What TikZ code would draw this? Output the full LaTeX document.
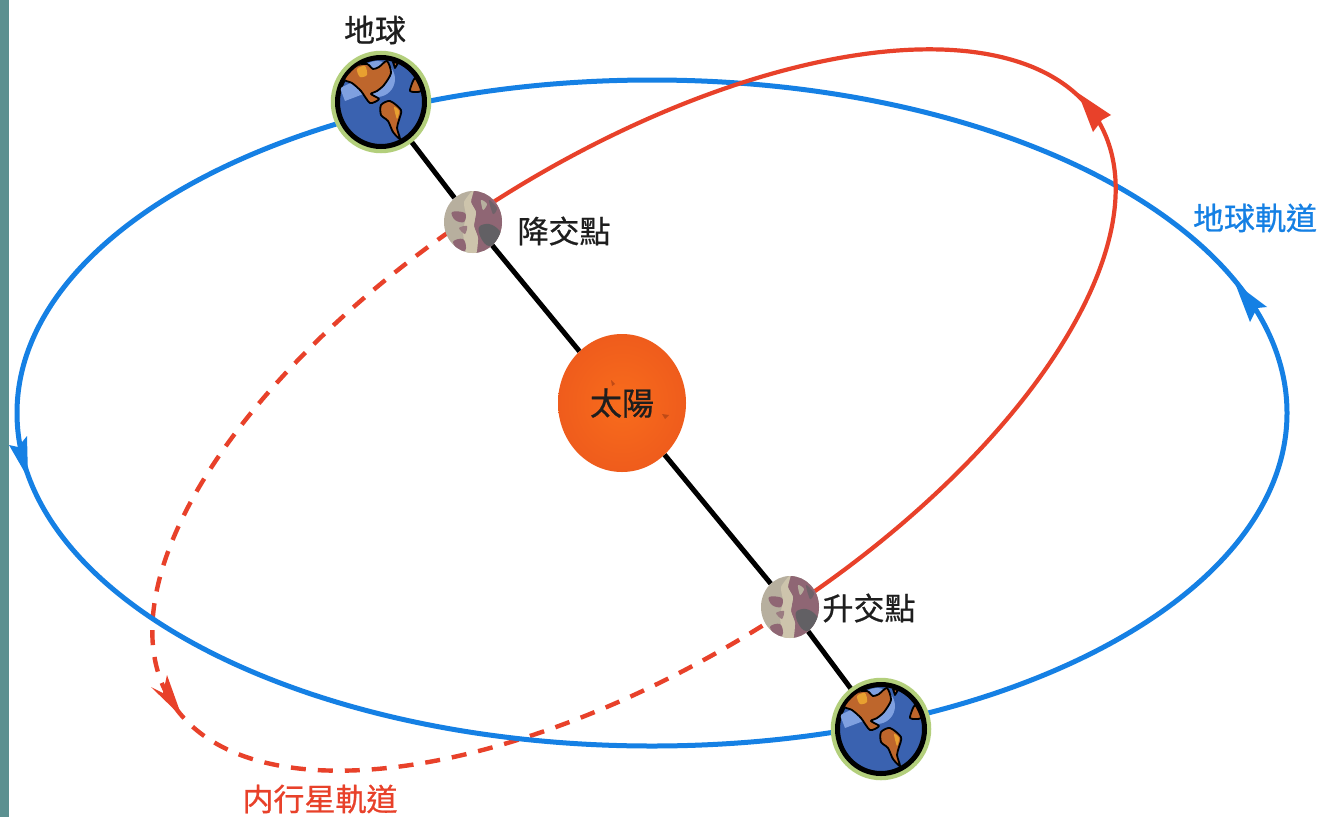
\documentclass[tikz,border=0pt]{standalone}
\usepackage{fontspec}
\usetikzlibrary{shapes.geometric}
\newfontfamily\cjk[FakeBold=0.7]{Noto Sans CJK TC}
\definecolor{orbitblue}{HTML}{1580E4}
\definecolor{orbitred}{HTML}{E8412A}
\definecolor{band}{HTML}{5B9090}
\definecolor{ringgreen}{HTML}{B3CF7C}
\definecolor{seablue}{HTML}{3A62B0}
\definecolor{paleblue}{HTML}{7FA0E0}
\definecolor{land}{HTML}{BE662C}
\definecolor{landhi}{HTML}{E8A030}
\definecolor{moonbase}{HTML}{B7AF9E}
\definecolor{moonlight}{HTML}{CDC4AC}
\definecolor{moonmauve}{HTML}{8F6674}
\definecolor{moondark}{HTML}{626064}
\definecolor{sunfill}{HTML}{F86C1C}
\definecolor{sunedge}{HTML}{EF5C1C}
\definecolor{inkdark}{HTML}{1E1E1E}
\tikzset{
  x=1pt,y=-1pt,
  orbitline/.style={line width=5pt,orbitblue},
  planetline/.style={line width=4.2pt,orbitred},
  planetdash/.style={line width=4.4pt,orbitred,dash pattern=on 15pt off 12pt},
  axisline/.style={line width=5pt,black},
  earthnode/.style={ellipse,inner sep=0pt,minimum width=90pt,minimum height=92pt,fill=seablue,draw=black,line width=4pt},
  moonnode/.style={ellipse,inner sep=0pt,minimum width=58pt,minimum height=62pt,fill=moonbase},
  sunnode/.style={ellipse,inner sep=0pt,minimum width=128pt,minimum height=138pt,inner color=sunfill,outer color=sunedge,font=\cjk\fontsize{32}{36}\selectfont,text=inkdark},
  lab/.style={font=\cjk\fontsize{31}{34}\selectfont,text=inkdark,inner sep=0pt},
  bluelab/.style={lab,text=orbitblue},
  redlab/.style={lab,text=orbitred},
  landpart/.style={fill=land,draw=black,line width=1.8pt,line join=round}
}
\newcommand{\earthart}[1]{%
  \begin{scope}[shift={(#1.center)}]
    \draw[ringgreen,line width=5.5pt] (0,0) ellipse[x radius=47.5pt,y radius=48.5pt];
    \draw[black,line width=5pt] (0,0) ellipse[x radius=43.5pt,y radius=44.5pt];
    \begin{scope}
      \clip (0,0) ellipse[x radius=42pt,y radius=43pt];
      \fill[paleblue] (-4,-23) circle[radius=18pt];
      \fill[paleblue] (-41,-14) -- (-24,-22) -- (-15,-9) -- (-36,-1) -- cycle;
      \draw[landpart] plot[smooth cycle,tension=0.45] coordinates {(-37,-23) (-25,-36) (-14,-38) (-8,-33) (-2,-35) (6,-41) (10,-29) (3,-17) (-4,-11) (-10,-8) (-2,-3) (-11,1) (-20,-11) (-29,-19)};
      \fill[landhi] plot[smooth cycle] coordinates {(-24,-33) (-16,-36) (-14,-27) (-21,-25)};
      \draw[landpart] plot[smooth cycle,tension=0.45] coordinates {(0,3) (9,-1) (20,8) (18,18) (16,26) (19,37) (12,30) (7,19) (0,13)};
      \fill[landhi] plot[smooth cycle] coordinates {(13,5) (18,9) (16,17)};
      \draw[landpart] plot[smooth cycle,tension=0.4] coordinates {(29,-11) (34,-24) (40,-11)};
      \draw[landpart] (12,-40) -- (17,-39) -- (14,-34) -- cycle;
    \end{scope}
  \end{scope}}
\newcommand{\moonart}[1]{%
  \begin{scope}[shift={(#1.center)}]
    \clip (0,0) ellipse[x radius=29pt,y radius=31pt];
    \fill[moonmauve] plot[smooth cycle,tension=0.35] coordinates {(1,-34) (-2,-20) (3,-10) (1,4) (5,16) (3,34) (34,34) (34,-34)};
    \fill[moonlight] plot[smooth cycle,tension=0.35] coordinates {(1,-33) (-9,-20) (-7,-6) (-10,10) (-6,33) (3,33) (5,16) (1,4) (3,-10) (-2,-20)};
    \fill[moondark] plot[smooth cycle,tension=0.6] coordinates {(6,5) (16,2) (26,8) (30,18) (16,24) (8,16)};
    \fill[moonmauve] plot[smooth cycle,tension=0.6] coordinates {(-21,-10) (-8,-9) (-9,0) (-18,-2)};
    \fill[moonmauve] plot[smooth cycle,tension=0.6] coordinates {(-20,20) (-10,17) (-7,26) (-12,31)};
    \fill[moonmauve!70!moonbase] plot[smooth cycle] coordinates {(-14,6) (-6,4) (-8,12)};
    \fill[moonbase] plot[smooth cycle] coordinates {(8,-22) (14,-18) (10,-12)};
    \fill[moondark!70!moonmauve] plot[smooth cycle] coordinates {(16,-22) (24,-14) (20,-8)};
  \end{scope}}
\begin{document}
\begin{tikzpicture}
\useasboundingbox (0,0) rectangle (1319,817);
\fill[white] (0,0) rectangle (1319,817);
% inner planet orbit, far half
\draw[planetdash] plot[domain=85:265,samples=120,smooth] ({634+547*cos(\x)*0.846+251*sin(\x)*0.533},{410-547*cos(\x)*0.533+251*sin(\x)*0.846});
% earth orbit
\draw[orbitline] (652,413) ellipse[x radius=635pt,y radius=333pt];
% inner planet orbit, near half
\draw[planetline] plot[domain=-95:85,samples=120,smooth] ({634+547*cos(\x)*0.846+251*sin(\x)*0.533},{410-547*cos(\x)*0.533+251*sin(\x)*0.846});
% arrowheads
\fill[orbitblue] (1235,283) -- (1267,307) -- (1257,308) -- (1250,322) -- cycle;
\fill[orbitblue] (28,478) -- (9,445) -- (18,447) -- (27,436) -- cycle;
\fill[orbitred] (1078,93) -- (1111,115) -- (1102,120) -- (1093,132) -- cycle;
\fill[orbitred] (182,717) -- (151,687) -- (163,693) -- (167,675) -- cycle;
% bodies
\node[earthnode] (earthA) at (381,102) {};
\node[earthnode] (earthB) at (881,729) {};
\node[moonnode] (moonA) at (473,222) {};
\node[moonnode] (moonB) at (790,607) {};
\node[sunnode] (sun) at (622,403) {太陽};
\draw[axisline] (earthA) -- (moonA);
\draw[axisline] (moonA) -- (sun);
\draw[axisline] (sun) -- (moonB);
\draw[axisline] (moonB) -- (earthB);
\earthart{earthA}
\earthart{earthB}
\moonart{moonA}
\moonart{moonB}
\fill[sunedge!80!black] (611,380) -- (615,384) -- (612,386) -- cycle;
\fill[sunedge!80!black] (662,414) -- (669,415) -- (665,419) -- cycle;
% labels
\node[lab] (labE) at (375,30) {地球};
\node[lab] (labD) at (564,231) {降交點};
\node[lab] (labA) at (869,608) {升交點};
\node[bluelab] (labO) at (1255,218) {地球軌道};
\node[redlab] (labP) at (320,799) {内行星軌道};
\fill[band] (0,0) rectangle (9,817);
\end{tikzpicture}
\end{document}
